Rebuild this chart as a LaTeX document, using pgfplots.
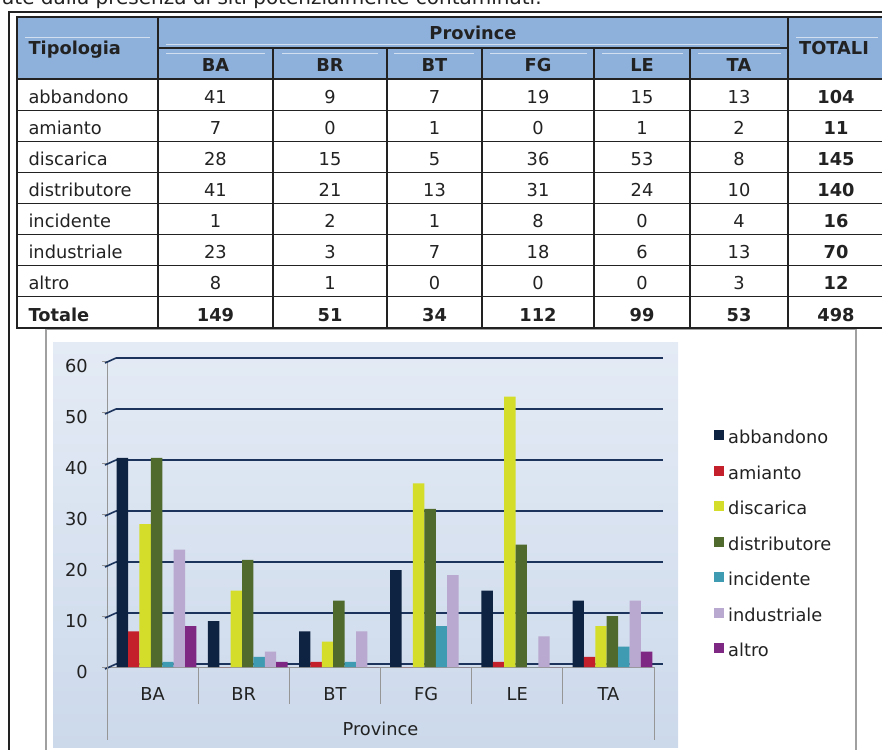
\documentclass[border=0pt]{standalone}
\usepackage{fontspec}
\setmainfont{DejaVu Sans}
\usepackage{pgfplots}
\pgfplotsset{compat=1.18}

\definecolor{hdr}{RGB}{142,177,220}
\definecolor{ink}{RGB}{34,34,34}
\definecolor{gridnavy}{RGB}{28,52,92}
\definecolor{frame}{RGB}{160,160,160}
\definecolor{axgray}{RGB}{150,150,150}
\definecolor{cAbb}{RGB}{14,35,65}
\definecolor{cAmi}{RGB}{196,32,43}
\definecolor{cDis}{RGB}{212,222,42}
\definecolor{cDst}{RGB}{79,106,44}
\definecolor{cInc}{RGB}{62,155,178}
\definecolor{cInd}{RGB}{185,168,207}
\definecolor{cAlt}{RGB}{126,40,132}
\definecolor{bgtop}{RGB}{228,235,245}
\definecolor{bgbot}{RGB}{204,217,235}

\newcommand\tf{\fontsize{17.8pt}{21pt}\selectfont}

\pgfplotsset{sq legend/.style={legend image code/.code={\fill[##1] (0pt,-1pt) rectangle (10pt,9pt);}}}

\begin{document}
\begin{tikzpicture}[x=1pt,y=1pt,font=\tf,text=ink]

% page text and rules
\node[anchor=base west, inner sep=0, font=\fontsize{20pt}{24pt}\selectfont] at (2,-5)
  {ate dalla presenza di siti potenzialmente contaminati.};
\draw[line width=2pt, ink] (9,-760) -- (9,-12) -- (890,-12);

% table header
\fill[hdr] (17,-17) rectangle (890,-79);
\begin{scope}[white, opacity=0.6, line width=0.8pt]
  \draw (25,-37) -- (150,-37);
  \draw (166,-44) -- (780,-44);
  \draw (796,-37) -- (878,-37);
  \foreach \a/\b in {166/265,282/378,394/474,490/587,602/683,698/781}
    \draw (\a,-53) -- (\b,-53);
\end{scope}
\node[anchor=base west, font=\tf\bfseries] at (25,-55) {Tipologia};
\node[anchor=base, font=\tf\bfseries] at (473,-40) {Province};
\node[anchor=base, font=\tf\bfseries] at (834,-55) {TOTALI};
\foreach \p/\x in {BA/215.5,BR/330,BT/434.5,FG/538,LE/642,TA/739}
  \node[anchor=base, font=\tf\bfseries] at (\x,-72) {\p};

% table body
\foreach \n/\a/\b/\c/\d/\e/\f/\t [count=\i from 0] in {
    abbandono/41/9/7/19/15/13/104,
    amianto/7/0/1/0/1/2/11,
    discarica/28/15/5/36/53/8/145,
    distributore/41/21/13/31/24/10/140,
    incidente/1/2/1/8/0/4/16,
    industriale/23/3/7/18/6/13/70,
    altro/8/1/0/0/0/3/12}{
  \pgfmathsetmacro\yb{-(79+\i*31.125+24)}
  \node[anchor=base west] at (25,\yb) {\n};
  \node[anchor=base] at (215.5,\yb) {\a};
  \node[anchor=base] at (330,\yb) {\b};
  \node[anchor=base] at (434.5,\yb) {\c};
  \node[anchor=base] at (538,\yb) {\d};
  \node[anchor=base] at (642,\yb) {\e};
  \node[anchor=base] at (739,\yb) {\f};
  \node[anchor=base, font=\tf\bfseries] at (836,\yb) {\t};
}
\begin{scope}[font=\tf\bfseries]
  \node[anchor=base west] at (25,-321) {Totale};
  \foreach \v/\x in {149/215.5,51/330,34/434.5,112/538,99/642,53/739,498/836}
    \node[anchor=base] at (\x,-321) {\v};
\end{scope}

% table rules
\begin{scope}[ink, line width=1.1pt]
  \draw (890,-17) -- (17,-17) -- (17,-328) -- (890,-328);
  \draw (17,-79) -- (890,-79);
  \draw (158,-48) -- (788,-48);
  \foreach \r in {1,...,7}
    \draw (17,{-(79+\r*31.125)}) -- (890,{-(79+\r*31.125)});
  \draw (158,-17) -- (158,-328);
  \draw (788,-17) -- (788,-328);
  \foreach \x in {273,387,482,594,690}
    \draw (\x,-48) -- (\x,-328);
\end{scope}

% chart frame and plot area
\draw[frame, line width=1.5pt] (46,-760) -- (46,-329.5) -- (856,-329.5) -- (856,-760);
\shade[top color=bgtop, bottom color=bgbot] (53,-342) rectangle (678,-747);

\begin{axis}[
    at={(107pt,-667pt)}, anchor=south west,
    scale only axis, width=547pt, height=306pt,
    xmin=-0.5, xmax=5.5, ymin=0, ymax=60,
    clip=false,
    ybar=0pt, bar width=0.125,
    axis x line*=bottom, axis y line*=left,
    axis line style={draw=axgray, line width=1pt},
    xtick={0,...,5}, xticklabels={BA,BR,BT,FG,LE,TA},
    xtick style={draw=none},
    xticklabel style={anchor=base, yshift=-28pt},
    ytick={0,10,...,60},
    ytick style={draw=axgray, line width=1pt},
    tick align=outside, major tick length=5pt,
    yticklabel style={anchor=east, inner xsep=0pt, xshift=-14pt, yshift=-5pt},
    tick label style={font=\tf, text=ink},
    /pgf/number format/assume math mode=true,
    ymajorgrids,
    major grid style={draw=gridnavy, line width=1.6pt, xshift=9pt, yshift=3pt},
    xlabel={Province},
    xlabel style={at={(axis description cs:0.5,0)}, anchor=base, yshift=-68pt, font=\tf, text=ink},
    legend style={at={(axis description cs:1.1097,0.7745)}, anchor=north west,
      draw=none, fill=none, font=\tf, text=ink, inner sep=0pt, row sep=18pt,
      nodes={inner sep=0pt, text height=13pt, text depth=4pt},
      /tikz/every odd column/.append style={column sep=4pt}},
    legend cell align=left,
]
\addplot[fill=cAbb, draw=none, xshift=4pt, sq legend] coordinates {(0,41) (1,9) (2,7) (3,19) (4,15) (5,13)};
\addplot[fill=cAmi, draw=none, xshift=4pt, sq legend] coordinates {(0,7) (1,0) (2,1) (3,0) (4,1) (5,2)};
\addplot[fill=cDis, draw=none, xshift=4pt, sq legend] coordinates {(0,28) (1,15) (2,5) (3,36) (4,53) (5,8)};
\addplot[fill=cDst, draw=none, xshift=4pt, sq legend] coordinates {(0,41) (1,21) (2,13) (3,31) (4,24) (5,10)};
\addplot[fill=cInc, draw=none, xshift=4pt, sq legend] coordinates {(0,1) (1,2) (2,1) (3,8) (4,0) (5,4)};
\addplot[fill=cInd, draw=none, xshift=4pt, sq legend] coordinates {(0,23) (1,3) (2,7) (3,18) (4,6) (5,13)};
\addplot[fill=cAlt, draw=none, xshift=4pt, sq legend] coordinates {(0,8) (1,1) (2,0) (3,0) (4,0) (5,3)};
\legend{abbandono,amianto,discarica,distributore,incidente,industriale,altro}

\pgfplotsinvokeforeach{0,10,...,60}{
  \draw[gridnavy, line width=1.6pt] (axis cs:-0.5,#1) ++(-2pt,-2pt) -- ++(11pt,5pt);
}
\pgfplotsinvokeforeach{0.5,1.5,2.5,3.5,4.5}{
  \draw[axgray, line width=1pt] (axis cs:#1,0) -- ++(0pt,-37pt);
}
\draw[axgray, line width=1pt] (axis cs:-0.5,0) -- ++(0pt,-73pt);
\draw[axgray, line width=1pt] (axis cs:5.5,0) -- ++(0pt,-73pt);
\end{axis}

\pgfresetboundingbox
\useasboundingbox (0,0) rectangle (882,-749);
\end{tikzpicture}
\end{document}
